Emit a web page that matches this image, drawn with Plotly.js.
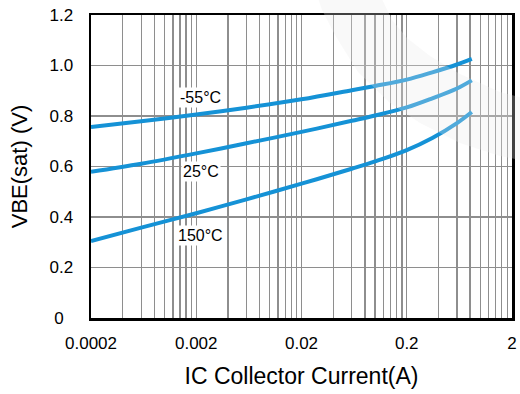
<!DOCTYPE html>
<html>
<head>
<meta charset="utf-8">
<script src="https://cdn.plot.ly/plotly-3.0.1.min.js"></script>
<style>html,body{margin:0;padding:0;background:#fff;}#chart{width:520px;height:394px;}</style>
</head>
<body>
<div id="chart"></div>
<script>
// Collector current (A)
const current = [0.0002, 0.0006, 0.002, 0.006, 0.02, 0.06, 0.1, 0.2, 0.35, 0.6, 0.83];
// VBE(sat) (V) per temperature
const vbeMinus55 = [0.756, 0.779, 0.806, 0.833, 0.866, 0.902, 0.919, 0.944, 0.973, 1.004, 1.026];
const vbe25      = [0.579, 0.611, 0.652, 0.692, 0.737, 0.781, 0.802, 0.834, 0.870, 0.909, 0.941];
const vbe150     = [0.305, 0.358, 0.415, 0.470, 0.532, 0.591, 0.620, 0.665, 0.713, 0.772, 0.816];
const seriesNames = ['-55°C', '25°C', '150°C'];
const labelX = [0.0022, 0.0022, 0.0022];
const labelY = [0.873, 0.582, 0.325];

const xDecades = [0.0002, 0.002, 0.02, 0.2, 2];
const yTicks = [0, 0.2, 0.4, 0.6, 0.8, 1.0, 1.2];
const yTickText = ['0\u00a0\u00a0', '0.2', '0.4', '0.6', '0.8', '1.0', '1.2'];

// gridline positions: k * decade start
const xGrid = [];
const xGridText = [];
xDecades.slice(0, 4).forEach(d => {
  for (let k = 1; k <= 9; k++) {
    const v = +(k * d).toPrecision(3);
    xGrid.push(v);
    xGridText.push(k === 1 ? String(d) : '');
  }
});
xGrid.push(2); xGridText.push('2');

const blue = '#1592d6';
const allY = [vbeMinus55, vbe25, vbe150];
const traces = allY.map((ys, i) => ({
  x: current, y: ys, name: seriesNames[i], type: 'scatter', mode: 'lines',
  line: {color: blue, width: 4, shape: 'spline', smoothing: 1},
  hoverinfo: 'skip', showlegend: false
}));

const font = 'Liberation Sans, Arial, Helvetica, sans-serif';
const annotations = seriesNames.map((n, i) => ({
  x: Math.log10(labelX[i]), y: labelY[i], xref: 'x', yref: 'y',
  text: n, showarrow: false, bgcolor: '#ffffff', borderpad: 1,
  font: {family: font, size: 16, color: '#000'}
}));

// faint watermark stripe (paper coords: plot area x 91..512, y 15..318)
function px(x){return ((x-91)/421).toFixed(4);}
function py(y){return ((318-y)/303).toFixed(4);}
const wmPts = [[317,-5],[322,10],[335,35],[358,72],[390,103],[420,123],[460,143],[500,156],[530,162],
               [530,100],[500,92],[460,74],[430,56],[407,38],[392,20],[380,-5]];
const wmPath = wmPts.map((p, i) => (i ? 'L ' : 'M ') + px(p[0]) + ' ' + py(p[1])).join(' ') + ' Z';

const layout = {
  width: 520, height: 394,
  margin: {l: 91, r: 8, t: 15, b: 76},
  paper_bgcolor: '#ffffff', plot_bgcolor: '#ffffff',
  font: {family: font, color: '#000'},
  xaxis: {
    type: 'log', range: [Math.log10(0.0002), Math.log10(2)],
    tickmode: 'array', tickvals: xGrid, ticktext: xGridText,
    showgrid: true, gridcolor: '#8e8e8e', gridwidth: 1.3,
    showline: true, linecolor: '#000', linewidth: 2.5, mirror: true,
    ticks: 'outside', ticklen: 8, tickcolor: 'rgba(0,0,0,0)',
    tickfont: {size: 17, family: font},
    zeroline: false,
    title: {text: 'IC Collector Current(A)', font: {size: 23, family: font}, standoff: 16}
  },
  yaxis: {
    range: [0, 1.2], tickmode: 'array', tickvals: yTicks, ticktext: yTickText,
    showgrid: true, gridcolor: '#8e8e8e', gridwidth: 1.3,
    showline: true, linecolor: '#000', linewidth: 2.5, mirror: true,
    ticks: 'outside', ticklen: 12, tickcolor: 'rgba(0,0,0,0)',
    tickfont: {size: 17, family: font},
    zeroline: false,
    title: {text: 'VBE(sat) (V)', font: {size: 22, family: font}, standoff: 16}
  },
  shapes: [{
    type: 'path', xref: 'paper', yref: 'paper', path: wmPath,
    fillcolor: 'rgba(232,232,232,0.28)', line: {width: 0}, layer: 'above'
  }],
  annotations: annotations,
  showlegend: false
};

Plotly.newPlot('chart', traces, layout, {staticPlot: true, displayModeBar: false});
</script>
</body>
</html>
